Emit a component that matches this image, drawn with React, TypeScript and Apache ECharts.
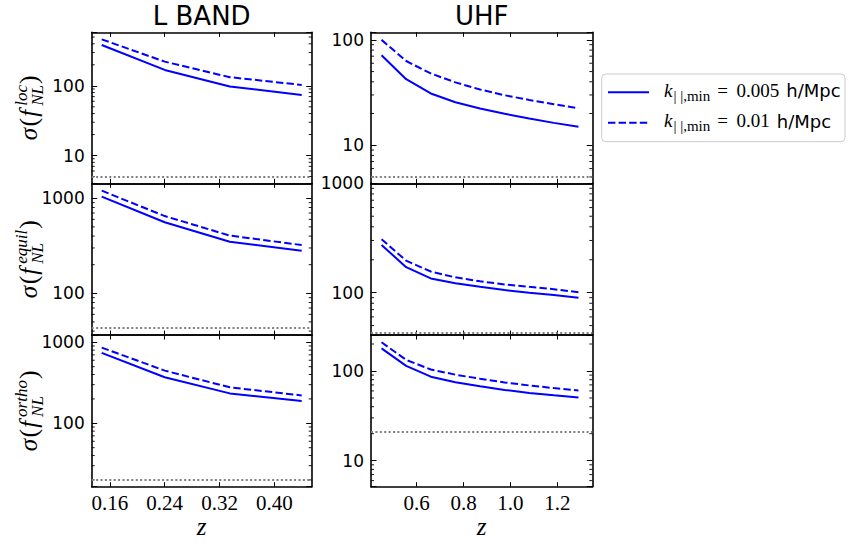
import React, { useEffect, useRef } from 'react';
import * as echarts from 'echarts';

// ---------------- data ----------------
const lbandZ = [0.148, 0.24, 0.335, 0.44];
const uhfZ = [0.45, 0.555, 0.66, 0.765, 0.87, 0.975, 1.08, 1.185, 1.29];

const lbandLocSolid = [385, 169, 98, 74];
const lbandLocDashed = [464, 222, 133, 103];
const lbandEquilSolid = [1040, 559, 349, 280];
const lbandEquilDashed = [1203, 650, 405, 322];
const lbandOrthoSolid = [740, 370, 234, 188];
const lbandOrthoDashed = [860, 447, 278, 221];

const uhfLocSolid = [71.5, 42.3, 31, 25.6, 22.3, 19.9, 17.9, 16.3, 15.0];
const uhfLocDashed = [100, 63, 48, 39.5, 33.8, 29.8, 26.9, 24.5, 22.4];
const uhfEquilSolid = [273, 171, 135, 122, 113, 105.5, 100, 95, 90];
const uhfEquilDashed = [308, 196, 156, 138, 127, 119, 113, 107.5, 101];
const uhfOrthoSolid = [179, 114, 86.5, 75, 67.5, 61.5, 57, 53.5, 50.5];
const uhfOrthoDashed = [209, 133, 104, 91, 82, 74.5, 69, 64.5, 60.8];

const lbandReference = [5, 43, 20];
const uhfReference = [5, 43, 21];

const lbandTicks = [0.16, 0.24, 0.32, 0.4];
const uhfTicks = [0.6, 0.8, 1.0, 1.2];

const columnTitles = ['L BAND', 'UHF'];
const shapeNames = ['loc', 'equil', 'ortho'];
const kMinValues = ['0.005', '0.01'];

// ---------------- layout / style ----------------
const W = 849;
const H = 545;
const colLeft = [91.7, 371];
const colWidth = [220, 221.3];
const rowTop = [32.3, 183.3, 335];
const rowHeight = [151, 151.7, 151.7];
const xRanges = [
  [0.1334, 0.4546],
  [0.405, 1.349],
];
const xDecimals = [2, 1];
const yRanges = [
  [
    [4.0, 585],
    [4.35, 118],
  ],
  [
    [36.4, 1438],
    [41, 1000],
  ],
  [
    [16.5, 1230],
    [5.13, 252],
  ],
];
const BLUE = '#0000ff';
const SERIF = '"Liberation Serif", "DejaVu Serif", serif';
const SANS = '"DejaVu Sans", sans-serif';

const columns = [
  {
    z: lbandZ,
    ticks: lbandTicks,
    solid: [lbandLocSolid, lbandEquilSolid, lbandOrthoSolid],
    dashed: [lbandLocDashed, lbandEquilDashed, lbandOrthoDashed],
    ref: lbandReference,
  },
  {
    z: uhfZ,
    ticks: uhfTicks,
    solid: [uhfLocSolid, uhfEquilSolid, uhfOrthoSolid],
    dashed: [uhfLocDashed, uhfEquilDashed, uhfOrthoDashed],
    ref: uhfReference,
  },
];

type Piece = { t: string; size: number; fam: string; italic?: boolean; dy?: number; gap?: number };
type Item = Piece | Piece[];

function minorTicks(range: number[]): number[] {
  const out: number[] = [];
  const k0 = Math.floor(Math.log10(range[0]));
  const k1 = Math.floor(Math.log10(range[1]));
  for (let k = k0; k <= k1; k++) {
    for (let m = 2; m <= 9; m++) {
      const v = m * Math.pow(10, k);
      if (v > range[0] && v < range[1]) out.push(v);
    }
  }
  return out;
}

export default function App() {
  const ref = useRef<HTMLDivElement>(null);

  useEffect(() => {
    const el = ref.current;
    if (!el) return;
    const chart = echarts.init(el, undefined, { renderer: 'svg' });

    const canvas = document.createElement('canvas');
    const ctx = canvas.getContext('2d') as CanvasRenderingContext2D;
    const measure = (t: string, font: string) => {
      ctx.font = font;
      return ctx.measureText(t).width;
    };

    // lay out a small formula: pieces side by side, arrays stacked (sup/sub)
    const buildMath = (items: Item[], fill: string, center: boolean) => {
      let x = 0;
      const kids: any[] = [];
      for (const it of items) {
        const pieces = Array.isArray(it) ? it : [it];
        let w = 0;
        for (const p of pieces) {
          if (p.t === '') {
            w = Math.max(w, p.gap || 0);
            continue;
          }
          const font = `${p.italic ? 'italic ' : ''}${p.size}px ${p.fam}`;
          const pw = measure(p.t, font) + (p.gap || 0);
          w = Math.max(w, pw);
          kids.push({
            type: 'text',
            x,
            y: (p.dy || 0) - 0.3375 * p.size,
            style: {
              text: p.t,
              font,
              fill,
              align: 'left',
              verticalAlign: 'middle',
              textAlign: 'left',
              textVerticalAlign: 'middle',
            },
          });
        }
        x += w;
      }
      if (center) kids.forEach((k) => (k.x -= x / 2));
      return kids;
    };

    const grid: any[] = [];
    const xAxis: any[] = [];
    const yAxis: any[] = [];
    const series: any[] = [];

    for (let r = 0; r < 3; r++) {
      for (let c = 0; c < 2; c++) {
        const g = r * 2 + c;
        const col = columns[c];
        grid.push({
          left: colLeft[c],
          top: rowTop[r],
          width: colWidth[c],
          height: rowHeight[r],
          containLabel: false,
        });
        const axisLine = { show: true, onZero: false, lineStyle: { color: '#000', width: 1.6 } };
        const dec = xDecimals[c];
        xAxis.push({
          type: 'value',
          gridIndex: g,
          position: 'bottom',
          min: xRanges[c][0],
          max: xRanges[c][1],
          axisLine,
          splitLine: { show: false },
          axisTick: {
            show: true,
            inside: true,
            length: 4.5,
            customValues: col.ticks,
            lineStyle: { color: '#000', width: 1 },
          },
          axisLabel: {
            show: r === 2,
            customValues: col.ticks,
            margin: 6,
            color: '#000',
            fontFamily: SERIF,
            fontSize: 21,
            formatter: (v: number) => v.toFixed(dec),
          },
        });
        xAxis.push({
          type: 'value',
          gridIndex: g,
          position: 'top',
          min: xRanges[c][0],
          max: xRanges[c][1],
          axisLine,
          splitLine: { show: false },
          axisTick: {
            show: true,
            inside: true,
            length: 4.5,
            customValues: col.ticks,
            lineStyle: { color: '#000', width: 1 },
          },
          axisLabel: { show: false, customValues: col.ticks },
        });
        const yr = yRanges[r][c];
        const yCommon = {
          type: 'log',
          logBase: 10,
          gridIndex: g,
          min: yr[0],
          max: yr[1],
          axisLine,
          splitLine: { show: false },
          axisTick: { show: true, inside: true, length: 5.5, lineStyle: { color: '#000', width: 1 } },
        };
        yAxis.push({
          ...yCommon,
          position: 'left',
          axisLabel: {
            show: true,
            margin: 7,
            color: '#000',
            fontFamily: SANS,
            fontSize: 17,
            formatter: (v: number) => {
              const l = Math.log10(v);
              return Math.abs(l - Math.round(l)) < 1e-6 ? String(Math.round(v)) : '';
            },
          },
        });
        yAxis.push({ ...yCommon, position: 'right', axisLabel: { show: false } });

        const solid = col.solid[r];
        const dashed = col.dashed[r];
        series.push({
          type: 'line',
          name: `${columnTitles[c]} ${shapeNames[r]} k=${kMinValues[0]}`,
          xAxisIndex: 2 * g,
          yAxisIndex: 2 * g,
          data: col.z.map((z, i) => [z, solid[i]]),
          symbol: 'none',
          showSymbol: false,
          lineStyle: { color: BLUE, width: 2 },
          itemStyle: { color: BLUE },
          z: 3,
          markLine: {
            silent: true,
            symbol: ['none', 'none'],
            label: { show: false },
            lineStyle: { color: '#808080', width: 2, type: [2, 2.4] },
            data: [{ yAxis: col.ref[r] }],
          },
        });
        series.push({
          type: 'line',
          name: `${columnTitles[c]} ${shapeNames[r]} k=${kMinValues[1]}`,
          xAxisIndex: 2 * g,
          yAxisIndex: 2 * g,
          data: col.z.map((z, i) => [z, dashed[i]]),
          symbol: 'none',
          showSymbol: false,
          lineStyle: { color: BLUE, width: 2, type: [7.4, 3.2] },
          itemStyle: { color: BLUE },
          z: 3,
        });
        const xmin = xRanges[c][0];
        series.push({
          type: 'custom',
          name: `minor ${g}`,
          xAxisIndex: 2 * g,
          yAxisIndex: 2 * g,
          silent: true,
          z: 4,
          encode: { x: 0, y: 1 },
          data: minorTicks(yr).map((v) => [xmin, v]),
          renderItem: (params: any, api: any) => {
            const cs = params.coordSys;
            const p = api.coord([api.value(0), api.value(1)]);
            const y = p[1];
            return {
              type: 'group',
              children: [
                {
                  type: 'line',
                  shape: { x1: cs.x, y1: y, x2: cs.x + 3, y2: y },
                  style: { stroke: '#000', lineWidth: 0.9 },
                },
                {
                  type: 'line',
                  shape: { x1: cs.x + cs.width - 3, y1: y, x2: cs.x + cs.width, y2: y },
                  style: { stroke: '#000', lineWidth: 0.9 },
                },
              ],
            };
          },
        });
      }
    }

    const graphic: any[] = [];
    // column titles and x names
    for (let c = 0; c < 2; c++) {
      const cx = colLeft[c] + colWidth[c] / 2;
      graphic.push({
        type: 'text',
        x: cx,
        y: 16,
        style: {
          text: columnTitles[c],
          font: `26px ${SANS}`,
          fill: '#000',
          align: 'center',
          verticalAlign: 'middle',
          textAlign: 'center',
          textVerticalAlign: 'middle',
        },
      });
      graphic.push({
        type: 'group',
        x: cx,
        y: 535,
        children: buildMath([{ t: 'z', size: 25, fam: SERIF, italic: true }], '#000', true),
      });
    }
    // y-axis names
    for (let r = 0; r < 3; r++) {
      const cy = rowTop[r] + rowHeight[r] / 2;
      graphic.push({
        type: 'group',
        x: 37,
        y: cy,
        rotation: Math.PI / 2,
        children: buildMath(
          [
            { t: 'σ', size: 25, fam: SERIF, italic: true, gap: 1.5 },
            { t: '(', size: 26, fam: SERIF, gap: 1 },
            { t: 'f', size: 25, fam: SERIF, italic: true, gap: 4 },
            [
              { t: shapeNames[r], size: 17, fam: SERIF, italic: true, dy: -10, gap: 1 },
              { t: 'NL', size: 17, fam: SERIF, italic: true, dy: 6, gap: 1 },
            ],
            { t: ')', size: 26, fam: SERIF },
          ],
          '#000',
          true
        ),
      });
    }
    // legend
    const lgX = 601.7;
    const lgY = 74;
    graphic.push({
      type: 'rect',
      shape: { x: lgX, y: lgY, width: 243.3, height: 67.7, r: 4 },
      style: { fill: '#fff', stroke: '#cccccc', lineWidth: 1 },
    });
    const rowsY = [92.3, 122.7];
    for (let i = 0; i < 2; i++) {
      graphic.push({
        type: 'line',
        shape: { x1: 608, y1: rowsY[i], x2: 649, y2: rowsY[i] },
        style: { stroke: BLUE, lineWidth: 2, lineDash: i === 0 ? null : [7.4, 3.2] },
      });
      graphic.push({
        type: 'group',
        x: 664,
        y: rowsY[i] + 4.5,
        children: buildMath(
          [
            { t: 'k', size: 19, fam: SERIF, italic: true, gap: 1 },
            { t: '| |,min', size: 15, fam: SERIF, dy: 4, gap: 7 },
            { t: '=', size: 19, fam: SERIF, gap: 8.5 },
            { t: kMinValues[i], size: 19, fam: SERIF, gap: 7 },
            { t: 'h/Mpc', size: 18, fam: SANS },
          ],
          '#000',
          false
        ),
      });
    }

    chart.setOption({
      animation: false,
      backgroundColor: '#fff',
      grid,
      xAxis,
      yAxis,
      series,
      graphic,
    });

    return () => chart.dispose();
  }, []);

  return (
    <div
      ref={ref}
      style={{ position: 'fixed', left: 0, top: 0, width: W, height: H, background: '#fff' }}
    />
  );
}
